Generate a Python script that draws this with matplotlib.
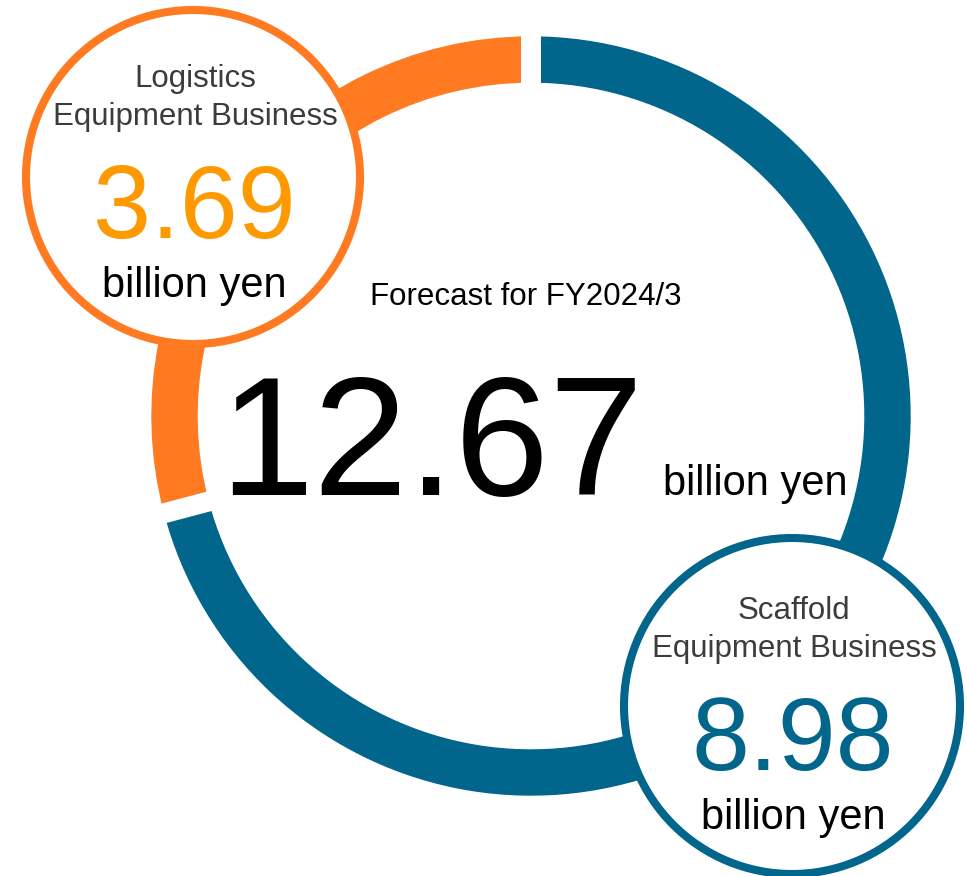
import numpy as np
import matplotlib
matplotlib.use("Agg")
import matplotlib.pyplot as plt
from matplotlib.patches import Wedge, Circle

plt.rcParams["font.family"] = ["Liberation Sans", "DejaVu Sans"]

# forecast, billion yen
segments = [("Logistics", "Equipment Business"), ("Scaffold", "Equipment Business")]
values = [3.69, 8.98]
total = 12.67
title = "Forecast for FY2024/3"
unit = "billion yen"

ORANGE, AMBER, BLUE = "#FF7A21", "#FF9900", "#02658B"
GRAY = "#3C3C3C"

W, H = 967, 876
fig = plt.figure(figsize=(W / 100, H / 100), dpi=100)
ax = fig.add_axes([0, 0, 1, 1])
ax.set_xlim(0, W); ax.set_ylim(0, H); ax.axis("off")
Y = lambda y: H - y  # pixel rows -> axis units

# donut
cx, cy, r_out, ring_w = 531, Y(416), 379, 45
ang = 90 + 360 * np.cumsum([0] + values) / sum(values)
for a0, a1, col in zip(ang[:-1], ang[1:], [ORANGE, BLUE]):
    ax.add_patch(Wedge((cx, cy), r_out, a0, a1, width=ring_w, color=col, zorder=1))
for a in ang[:-1]:
    t = np.deg2rad(a)
    ax.plot([cx, cx + 400 * np.cos(t)], [cy, cy + 400 * np.sin(t)],
            color="white", lw=14.4, solid_capstyle="butt", zorder=2)

# centre labels
ax.text(526, Y(305), title, fontsize=22.5, ha="center", va="baseline", zorder=5)
ax.text(431, Y(495), f"{total:.2f}", fontsize=122, ha="center", va="baseline", zorder=5)
ax.text(755, Y(495), unit, fontsize=30, ha="center", va="baseline", zorder=5)

# segment bubbles: centre, radius, edge colour, number colour, text row shift
bubbles = [((193, 177), 167, ORANGE, AMBER, -3), ((792, 706), 168, BLUE, BLUE, 0)]
for (l1, l2), v, ((bx, by), br, edge, numcol, dy) in zip(segments, values, bubbles):
    ax.add_patch(Circle((bx, Y(by)), br, facecolor="white", edgecolor=edge,
                        lw=5.8, zorder=3))
    ty = by + dy
    ax.text(bx + 2, Y(ty - 87), l1, fontsize=22.5, color=GRAY, ha="center",
            va="baseline", zorder=5)
    ax.text(bx + 2, Y(ty - 49), l2, fontsize=22.5, color=GRAY, ha="center",
            va="baseline", zorder=5)
    ax.text(bx + 1, Y(ty + 64), f"{v:.2f}", fontsize=75, color=numcol, ha="center",
            va="baseline", zorder=5)
    ax.text(bx + 1, Y(ty + 123), unit, fontsize=30, ha="center", va="baseline", zorder=5)

fig.savefig("out.png", dpi=100, facecolor="white")
